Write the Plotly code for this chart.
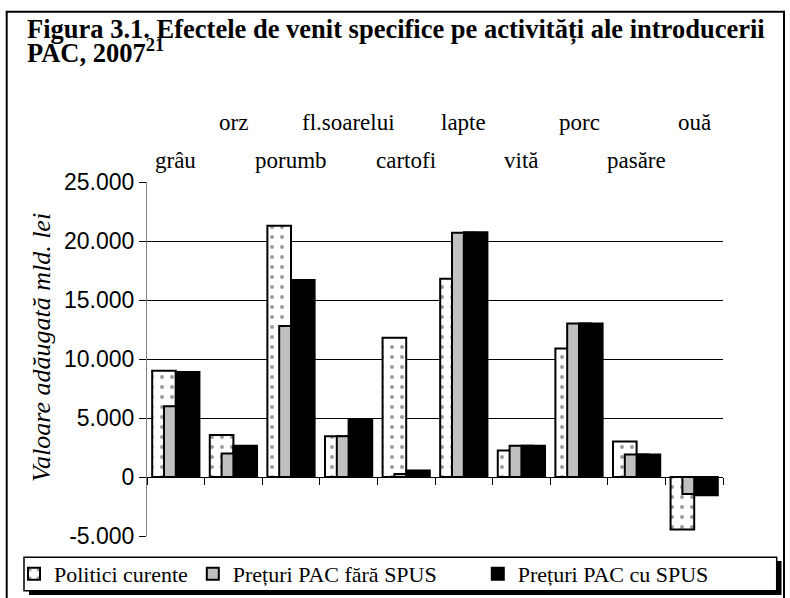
import plotly.graph_objects as go

categories = ["grâu", "orz", "porumb", "fl.soarelui", "cartofi", "lapte", "vită", "porc", "pasăre", "ouă"]
politici_curente = [9000, 3550, 21300, 3450, 11800, 16800, 2250, 10900, 3000, -4450]
pac_fara_spus = [6000, 2000, 12800, 3450, 250, 20700, 2650, 13000, 1900, -1450]
pac_cu_spus = [8900, 2650, 16700, 4850, 550, 20750, 2650, 13000, 1900, -1550]
series_names = ["Politici curente", "Prețuri PAC fără SPUS", "Prețuri PAC cu SPUS"]
tick_values = [-5000, 0, 5000, 10000, 15000, 20000, 25000]
tick_labels = ["-5.000", "0", "5.000", "10.000", "15.000", "20.000", "25.000"]

W, H = 790, 598
L, R, T, B = 147, 67, 182, 62
PW, PH = W - L - R, H - T - B


def px(x):
    return (x - L) / PW


def py(y):
    return (H - B - y) / PH


SERIF = "Liberation Serif"
SANS = "Liberation Sans"

fig = go.Figure()
fig.add_trace(go.Bar(
    x=categories, y=politici_curente, name=series_names[0],
    width=0.41, offset=-0.41,
    marker=dict(color="white", line=dict(color="black", width=2),
                pattern=dict(shape=".", fgcolor="#333333", bgcolor="white", size=10, solidity=0.12)),
))
fig.add_trace(go.Bar(
    x=categories, y=pac_fara_spus, name=series_names[1],
    width=0.41, offset=-0.205,
    marker=dict(color="#c0c0c0", line=dict(color="black", width=2)),
    legendwidth=240,
))
fig.add_trace(go.Bar(
    x=categories, y=pac_cu_spus, name=series_names[2],
    width=0.41, offset=0.0,
    marker=dict(color="black", line=dict(color="black", width=2)),
))

annotations = []
for i, c in enumerate(categories):
    annotations.append(dict(
        x=c, xref="x", y=py(123) if i % 2 else py(160), yref="paper",
        text=c, showarrow=False, xanchor="center", yanchor="middle",
        font=dict(family=SERIF, size=23, color="black"),
    ))
annotations.append(dict(
    x=px(25), xref="paper", y=py(29), yref="paper", xanchor="left", yanchor="middle",
    text="<b>Figura 3.1. Efectele de venit specifice pe activități ale introducerii</b>",
    showarrow=False, font=dict(family=SERIF, size=26.5, color="black"),
))
annotations.append(dict(
    x=px(25), xref="paper", y=py(51), yref="paper", xanchor="left", yanchor="middle",
    text="<b>PAC, 2007<sup>21</sup></b>",
    showarrow=False, font=dict(family=SERIF, size=26.5, color="black"),
))
annotations.append(dict(
    x=px(41), xref="paper", y=py(348), yref="paper", xanchor="center", yanchor="middle",
    text="<i>Valoare adăugată mld. lei</i>", textangle=-90,
    showarrow=False, font=dict(family=SERIF, size=26, color="black"),
))

shapes = [
    dict(type="rect", xref="paper", yref="paper", x0=px(6.7), x1=px(784), y0=py(11.7), y1=py(605),
         line=dict(color="black", width=2), fillcolor="rgba(0,0,0,0)", layer="below"),
    dict(type="rect", xref="paper", yref="paper", x0=px(29), x1=px(781.5), y0=py(561), y1=py(595),
         line=dict(width=0), fillcolor="black", layer="below"),
    dict(type="rect", xref="paper", yref="paper", x0=px(24), x1=px(776.7), y0=py(557.3), y1=py(590.7),
         line=dict(color="black", width=1.5), fillcolor="white", layer="below"),
]

fig.update_layout(
    width=W, height=H, autosize=False,
    margin=dict(l=L, r=R, t=T, b=B, pad=0, autoexpand=False),
    paper_bgcolor="white", plot_bgcolor="rgba(0,0,0,0)",
    barmode="overlay", showlegend=True,
    font=dict(family=SERIF, color="black"),
    legend=dict(
        orientation="h", x=px(14), xanchor="left", y=py(574), yanchor="middle",
        bgcolor="rgba(0,0,0,0)", borderwidth=0,
        font=dict(family=SERIF, size=22, color="black"),
        traceorder="normal", itemwidth=30,
    ),
    xaxis=dict(
        type="category", categoryorder="array", categoryarray=categories,
        anchor="free", position=1 / 6,
        showline=True, linecolor="black", linewidth=1,
        ticks="outside", tickson="boundaries", ticklen=7, tickcolor="black", tickwidth=1,
        showticklabels=False, showgrid=False, zeroline=False,
    ),
    yaxis=dict(
        range=[-5000, 25000], tickvals=tick_values, ticktext=tick_labels,
        showgrid=True, gridcolor="black", gridwidth=1,
        showline=True, linecolor="#808080", linewidth=1,
        ticks="outside", ticklen=7, tickcolor="black",
        tickfont=dict(family=SANS, size=23, color="black"),
        zeroline=False,
    ),
    annotations=annotations,
    shapes=shapes,
)

fig.write_html(
    "out.html",
    config={"displayModeBar": False},
    post_script="document.body.style.margin='0';document.body.style.overflow='hidden';",
)
